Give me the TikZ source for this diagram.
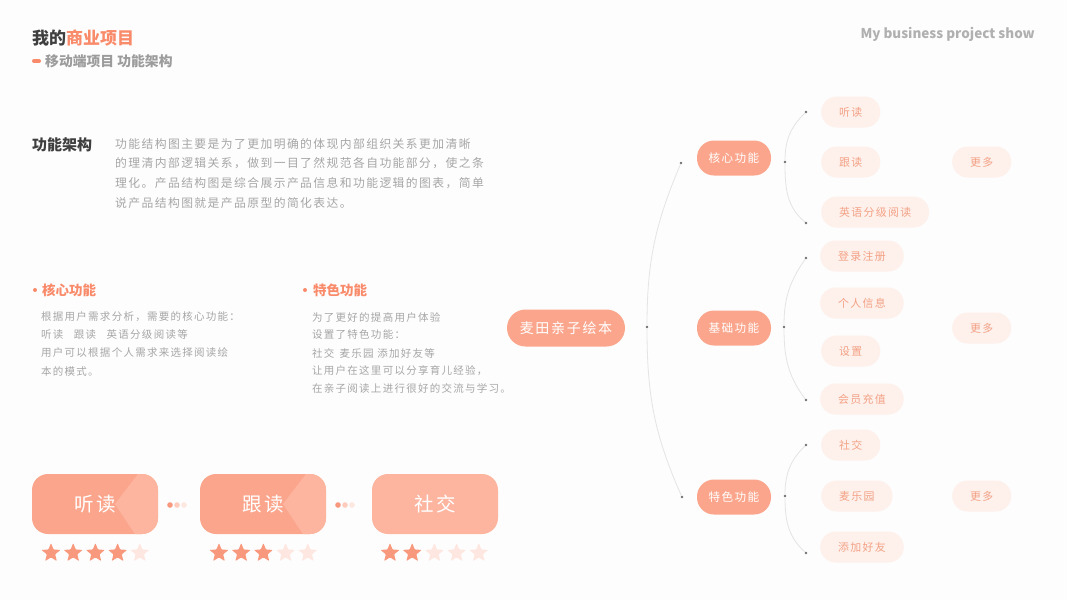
\documentclass[tikz,border=0pt]{standalone}
\usepackage{fontspec}
\setmainfont{Noto Sans CJK SC}
\newfontfamily\cjksp[LetterSpace=12]{Noto Sans CJK SC}
\usetikzlibrary{shapes.geometric}
\definecolor{bgWhite}{HTML}{FDFDFD}
\definecolor{salmon}{HTML}{FBA68C}
\definecolor{salmonLight}{HTML}{FDB5A0}
\definecolor{titleSalmon}{HTML}{F98B6B}
\definecolor{leafFill}{HTML}{FEF0EB}
\definecolor{leafText}{HTML}{F3A286}
\definecolor{textGray}{HTML}{A6A6A6}
\definecolor{subGray}{HTML}{9C9C9C}
\definecolor{darkGray}{HTML}{3F3F3F}
\definecolor{lineGray}{HTML}{E4E4E4}
\definecolor{dotGray}{HTML}{707070}
\definecolor{starOn}{HTML}{F8997D}
\definecolor{starOff}{HTML}{FDE7E0}

\begin{document}
\begin{tikzpicture}[x=1pt, y=-1pt,
  pill/.style={fill=salmon, text=white, rounded corners=17, minimum height=35,
    minimum width=74, inner sep=0, font=\cjksp\fontsize{11.6}{12}\selectfont},
  leaf/.style={fill=leafFill, text=leafText, rounded corners=15.5, minimum height=31,
    inner xsep=18, inner ysep=0, anchor=west, font=\cjksp\fontsize{10.9}{12}\selectfont},
  link/.style={draw=lineGray, line width=0.8pt},
  knot/.style={circle, fill=dotGray, inner sep=0, minimum size=2.6},
  para/.style={anchor=west, inner sep=0, text=textGray},
  card/.style={fill=salmon, text=white, rounded corners=16, minimum width=126,
    minimum height=60, inner sep=0, font=\cjksp\fontsize{19.5}{20}\selectfont},
  cardsplit/.style={card, path picture={
    \fill[salmonLight, sharp corners] ([xshift=-20pt]path picture bounding box.north east)
      -- ([xshift=-43pt]path picture bounding box.east)
      -- ([xshift=-23pt]path picture bounding box.south east)
      -- (path picture bounding box.south east)
      -- (path picture bounding box.north east) -- cycle;}},
  star5/.style={star, star points=5, star point ratio=2.3, minimum size=20,
    inner sep=0, rounded corners=0.8}
]
  \fill[bgWhite] (0,0) rectangle (1067,600);
  \useasboundingbox (0,0) rectangle (1067,600);

  % Header
  \node[anchor=west, inner sep=0, font=\fontsize{17}{18}\selectfont\bfseries] (title) at (32,38)
    {\textcolor{darkGray}{我的}\textcolor{titleSalmon}{商业项目}};
  \draw[titleSalmon, line width=4pt, line cap=round] (34,61) -- (39,61);
  \node[anchor=west, inner sep=0, text=subGray, font=\fontsize{13.8}{14}\selectfont\bfseries] (subtitle) at (45,61)
    {移动端项目 功能架构};
  \node[anchor=east, inner sep=0, text=subGray!80, font=\fontsize{13.5}{15}\selectfont\bfseries] (show) at (1035,34)
    {My business project show};

  % Intro
  \node[anchor=west, inner sep=0, text=darkGray, font=\fontsize{15}{16}\selectfont\bfseries] (intro) at (32,145) {功能架构};
  \node[para, font=\cjksp\fontsize{11.8}{14}\selectfont] (p1) at (115,144) {功能结构图主要是为了更加明确的体现内部组织关系更加清晰};
  \node[para, font=\cjksp\fontsize{11.8}{14}\selectfont] (p2) at (115,163.5) {的理清内部逻辑关系，做到一目了然规范各自功能部分，使之条};
  \node[para, font=\cjksp\fontsize{11.8}{14}\selectfont] (p3) at (115,183) {理化。产品结构图是综合展示产品信息和功能逻辑的图表，简单};
  \node[para, font=\cjksp\fontsize{11.8}{14}\selectfont] (p4) at (115,203) {说产品结构图就是产品原型的简化表达。};

  % Core functions
  \fill[titleSalmon] (35,290) circle (2);
  \node[anchor=west, inner sep=0, text=titleSalmon, font=\fontsize{13.5}{14}\selectfont\bfseries] (coreHead) at (42,290) {核心功能};
  \node[para, font=\cjksp\fontsize{10.5}{12}\selectfont] (c1) at (41,317) {根据用户需求分析，需要的核心功能：};
  \node[para, font=\cjksp\fontsize{10.5}{12}\selectfont] (c2) at (41,335) {听读\quad 跟读\quad 英语分级阅读等};
  \node[para, font=\cjksp\fontsize{10.5}{12}\selectfont] (c3) at (41,353) {用户可以根据个人需求来选择阅读绘};
  \node[para, font=\cjksp\fontsize{10.5}{12}\selectfont] (c4) at (41,371) {本的模式。};

  % Special functions
  \fill[titleSalmon] (305,290) circle (2);
  \node[anchor=west, inner sep=0, text=titleSalmon, font=\fontsize{13.5}{14}\selectfont\bfseries] (extraHead) at (313,290) {特色功能};
  \node[para, font=\cjksp\fontsize{10.5}{12}\selectfont] (e1) at (312,317) {为了更好的提高用户体验};
  \node[para, font=\cjksp\fontsize{10.5}{12}\selectfont] (e2) at (312,335) {设置了特色功能：};
  \node[para, font=\cjksp\fontsize{10.5}{12}\selectfont] (e3) at (312,353) {社交\enspace 麦乐园 添加好友等};
  \node[para, font=\cjksp\fontsize{10.5}{12}\selectfont] (e4) at (312,370.5) {让用户在这里可以分享育儿经验，};
  \node[para, font=\cjksp\fontsize{10.5}{12}\selectfont] (e5) at (312,388) {在亲子阅读上进行很好的交流与学习。};

  % Cards with ratings
  \node[cardsplit] (listen) at (95,504) {听读};
  \node[cardsplit] (follow) at (263,504) {跟读};
  \node[card, fill=salmonLight] (social) at (435,504) {社交};
  \fill[starOn] (170,505) circle (2.8);
  \fill[salmonLight!70] (177,505) circle (2.8);
  \fill[starOff] (184,505) circle (2.8);
  \fill[starOn] (338,505) circle (2.8);
  \fill[salmonLight!70] (345,505) circle (2.8);
  \fill[starOff] (352,505) circle (2.8);
  \foreach \cx/\on [count=\k] in {51/4, 219/3, 390/2}
    \foreach \j in {1,...,5}{
      \ifnum\j>\on \def\sc{starOff}\else\def\sc{starOn}\fi
      \node[star5, fill=\sc] (s\k\j) at (\cx+22.2*\j-22.2, 553) {};
    }

  % Mind map
  \node[pill, minimum width=118, minimum height=37, rounded corners=18.5,
    font=\cjksp\fontsize{14}{15}\selectfont] (root) at (566,328) {麦田亲子绘本};
  \node[knot] (hubR) at (647,327) {};
  \node[knot] (hubT) at (681,163) {};
  \node[knot] (hubB) at (682,497) {};
  \draw[link] (hubT) to[out=247,in=90] (hubR) to[out=270,in=114] (hubB);

  \node[pill] (core) at (734,158) {核心功能};
  \node[pill] (base) at (734,328) {基础功能};
  \node[pill] (extra) at (734,497) {特色功能};

  % core branch
  \node[knot] (coreR) at (785,162) {};
  \node[knot] (coreT) at (806,112) {};
  \node[knot] (coreB) at (806,223) {};
  \draw[link] (coreT) to[out=224,in=90] (coreR) to[out=270,in=140] (coreB);
  \node[leaf] (l11) at (821,112) {听读};
  \node[leaf] (l12) at (821,162) {跟读};
  \node[leaf] (l13) at (821,212) {英语分级阅读};
  \node[leaf] (m1) at (952,162) {更多};

  % base branch
  \node[knot] (baseR) at (784,327) {};
  \node[knot] (baseT) at (806,258) {};
  \node[knot] (baseB) at (806,400) {};
  \draw[link] (baseT) to[out=235,in=90] (baseR) to[out=270,in=127] (baseB);
  \node[leaf] (l21) at (820,256) {登录注册};
  \node[leaf] (l22) at (820,303) {个人信息};
  \node[leaf] (l23) at (821,351) {设置};
  \node[leaf] (l24) at (820,399) {会员充值};
  \node[leaf] (m2) at (952,328) {更多};

  % extra branch
  \node[knot] (extraR) at (785,496) {};
  \node[knot] (extraT) at (806,445) {};
  \node[knot] (extraB) at (806,553) {};
  \draw[link] (extraT) to[out=224,in=90] (extraR) to[out=270,in=138] (extraB);
  \node[leaf] (l31) at (821,445) {社交};
  \node[leaf] (l32) at (821,496) {麦乐园};
  \node[leaf] (l33) at (820,547) {添加好友};
  \node[leaf] (m3) at (952,496) {更多};
\end{tikzpicture}
\end{document}
